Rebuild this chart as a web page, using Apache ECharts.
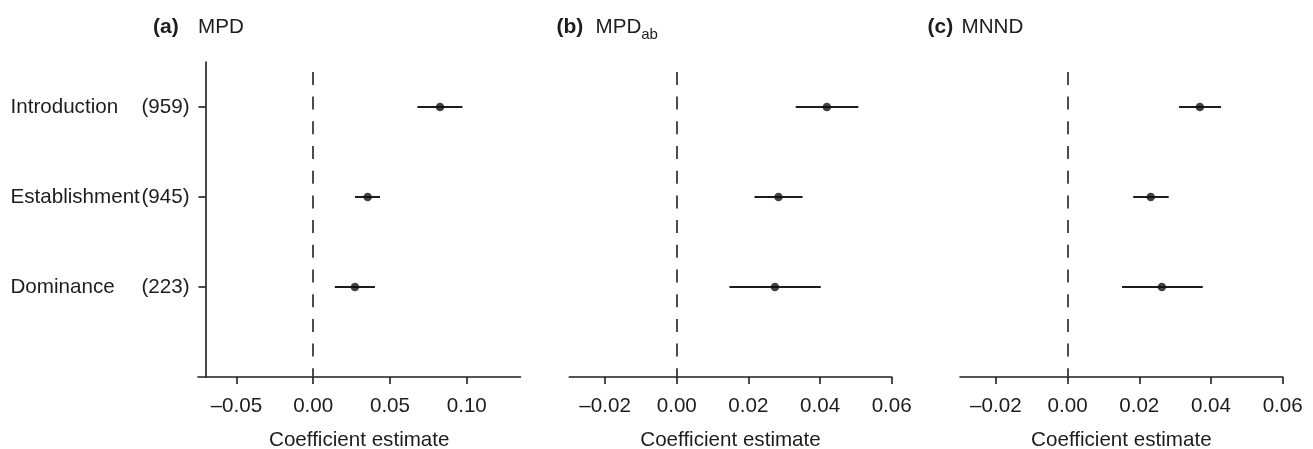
<!DOCTYPE html>
<html>
<head>
<meta charset="utf-8">
<script src="https://cdn.jsdelivr.net/npm/echarts@6/dist/echarts.min.js"></script>
<style>
html,body{margin:0;padding:0;background:#fff;}
#chart{width:1313px;height:449px;}
</style>
</head>
<body>
<div id="chart"></div>
<script>
// ---- data ----
const categories = ['Introduction', 'Establishment', 'Dominance'];
const counts = ['959', '945', '223'];
const rowPos = [3, 2, 1]; // row slots on the y value axis (top to bottom)

const mpdEst  = [0.0826, 0.0355, 0.0272];
const mpdLow  = [0.0679, 0.0272, 0.0141];
const mpdHigh = [0.0972, 0.0435, 0.0402];

const mpdabEst  = [0.0419, 0.0284, 0.0274];
const mpdabLow  = [0.0332, 0.0217, 0.0147];
const mpdabHigh = [0.0507, 0.0351, 0.0402];

const mnndEst  = [0.0369, 0.0232, 0.0263];
const mnndLow  = [0.0311, 0.0183, 0.0152];
const mnndHigh = [0.0428, 0.0282, 0.0377];

const ticksA  = [-0.05, 0.00, 0.05, 0.10];
const ticksBC = [-0.02, 0.00, 0.02, 0.04, 0.06];
const xNameText = 'Coefficient estimate';

// ---- chart ----
const FONT = '"Liberation Sans", Arial, Helvetica, sans-serif';
const INK = '#1f1c1d';
const FS = 20.6;

function fmtTick(v) {
  const s = Math.abs(v).toFixed(2);
  return v < 0 ? '\u2013' + s : s;
}

const grids = [
  { left: 198, top: 62, width: 322.5, height: 315, outerBoundsMode: 'none', containLabel: false },
  { left: 569.3, top: 62, width: 322.4, height: 315, outerBoundsMode: 'none', containLabel: false },
  { left: 960, top: 62, width: 322.7, height: 315, outerBoundsMode: 'none', containLabel: false }
];
const xRanges = [[-0.075, 0.135], [-0.03, 0.06], [-0.03, 0.06]];
const xTicks = [ticksA, ticksBC, ticksBC];

const xAxes = grids.map((g, i) => ({
  type: 'value', gridIndex: i, min: xRanges[i][0], max: xRanges[i][1],
  splitLine: { show: false },
  axisLine: { show: true, onZero: false, lineStyle: { color: INK, width: 1.6 } },
  axisTick: { show: true, length: 7, customValues: xTicks[i], lineStyle: { color: INK, width: 1.6 } },
  axisLabel: { customValues: xTicks[i], formatter: fmtTick, color: INK, fontFamily: FONT, fontSize: FS, margin: 19 },
  name: xNameText, nameLocation: 'middle', nameGap: 53,
  nameTextStyle: { color: INK, fontFamily: FONT, fontSize: FS }
}));

const yAxes = grids.map((g, i) => ({
  type: 'value', gridIndex: i, min: 0, max: 3.5,
  show: i === 0,
  offset: -7.5,
  splitLine: { show: false },
  axisLine: { show: true, onZero: false, lineStyle: { color: INK, width: 1.6 } },
  axisTick: { show: true, length: 7, customValues: rowPos, lineStyle: { color: INK, width: 1.6 } },
  axisLabel: {
    customValues: rowPos, margin: 16,
    formatter: function (v) {
      const k = rowPos.indexOf(v);
      if (k < 0) return '';
      return '{n|' + categories[k] + '}{c|(' + counts[k] + ')}';
    },
    rich: {
      n: { width: 136, align: 'left', color: INK, fontFamily: FONT, fontSize: FS },
      c: { width: 43, align: 'right', color: INK, fontFamily: FONT, fontSize: FS }
    }
  }
}));

function makeSeries(i, est, low, high) {
  const barData = rowPos.map((y, k) => [y, low[k], high[k]]);
  const ptData = rowPos.map((y, k) => [est[k], y]);
  return [
    {
      type: 'custom', xAxisIndex: i, yAxisIndex: i, z: 2,
      data: barData,
      encode: { x: [1, 2], y: 0 },
      renderItem: function (params, api) {
        const y = api.value(0);
        const a = api.coord([api.value(1), y]);
        const b = api.coord([api.value(2), y]);
        return { type: 'line', shape: { x1: a[0], y1: a[1], x2: b[0], y2: b[1] },
                 style: { stroke: INK, lineWidth: 2 } };
      }
    },
    {
      type: 'scatter', xAxisIndex: i, yAxisIndex: i, z: 3,
      data: ptData, symbol: 'circle', symbolSize: 8.5,
      itemStyle: { color: '#111' },
      markLine: {
        silent: true, symbol: 'none', label: { show: false },
        lineStyle: { type: [13, 11.7], color: '#3a3a3a', width: 1.8 },
        emphasis: { disabled: true },
        data: [[{ coord: [0, 3.39] }, { coord: [0, 0] }]]
      }
    }
  ];
}

const titles = [
  { left: 148, tag: '(a)', tagW: 45, main: '{m|MPD}' },
  { left: 551.5, tag: '(b)', tagW: 39, main: '{m|MPD}{s|ab}' },
  { left: 922.5, tag: '(c)', tagW: 34, main: '{m|MNND}' }
].map(t => ({
  left: t.left, top: 9,
  text: '{b|' + t.tag + '}' + t.main,
  textStyle: {
    rich: {
      b: { width: t.tagW, fontWeight: 'bold', color: INK, fontFamily: FONT, fontSize: 21, lineHeight: 24, verticalAlign: 'bottom' },
      m: { fontWeight: 'normal', color: INK, fontFamily: FONT, fontSize: FS, lineHeight: 24, verticalAlign: 'bottom' },
      s: { fontWeight: 'normal', color: INK, fontFamily: FONT, fontSize: 15, lineHeight: 24, verticalAlign: 'bottom', padding: [0, 0, -4, 0] }
    }
  }
}));

const chart = echarts.init(document.getElementById('chart'), null, { renderer: 'canvas' });
chart.setOption({
  animation: false,
  backgroundColor: '#fff',
  title: titles,
  grid: grids,
  xAxis: xAxes,
  yAxis: yAxes,
  series: [].concat(
    makeSeries(0, mpdEst, mpdLow, mpdHigh),
    makeSeries(1, mpdabEst, mpdabLow, mpdabHigh),
    makeSeries(2, mnndEst, mnndLow, mnndHigh)
  )
});
</script>
</body>
</html>
